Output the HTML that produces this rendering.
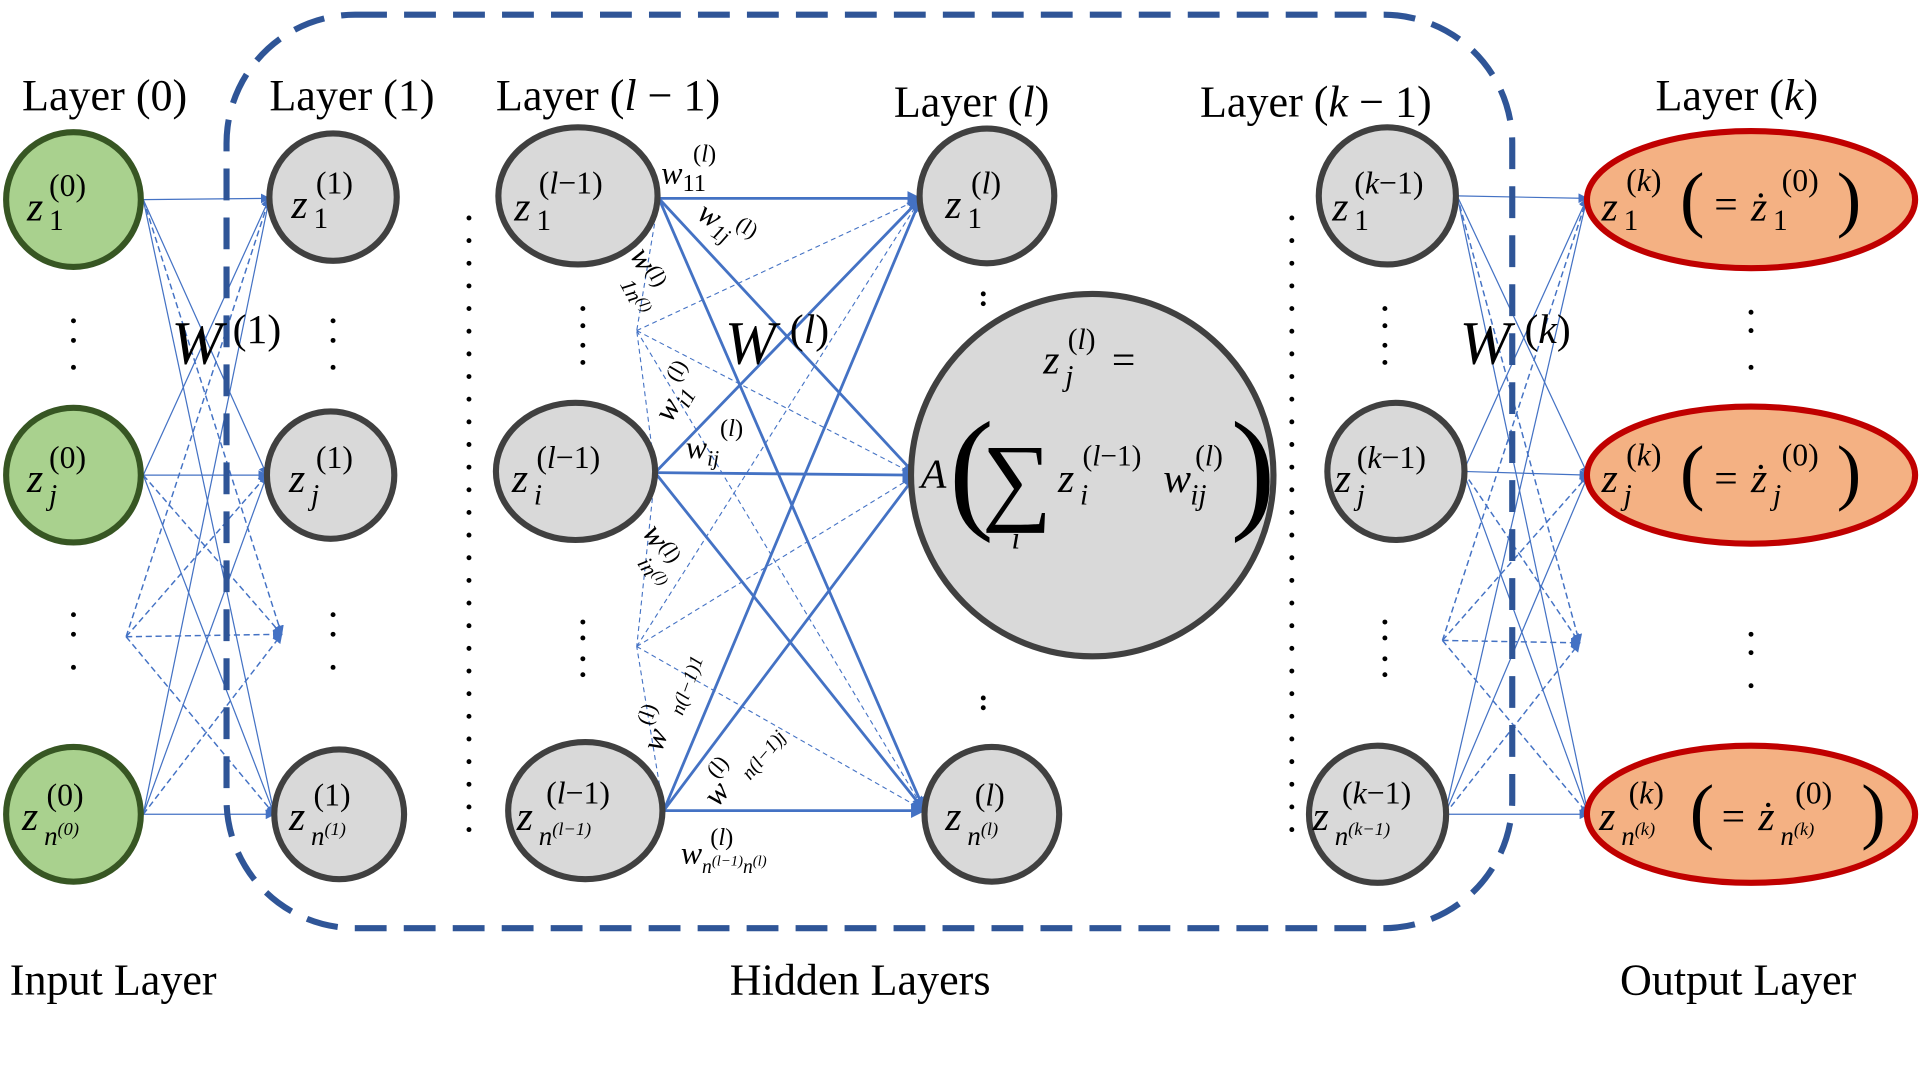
<!DOCTYPE html>
<html><head><meta charset="utf-8"><style>
html,body{margin:0;padding:0;background:#fff;}
svg{display:block}
text{font-family:"Liberation Serif","DejaVu Serif",serif;fill:#000}
.m{font-style:italic}
</style></head><body>
<svg width="1920" height="1080" viewBox="0 0 1568 882" preserveAspectRatio="none" xmlns="http://www.w3.org/2000/svg">
<defs>
<marker id="ar" markerWidth="8" markerHeight="8" refX="7" refY="4" orient="auto" markerUnits="userSpaceOnUse"><path d="M0,0 L8,4 L0,8 z" fill="#4472c4"/></marker>
<marker id="ar2" markerWidth="12" markerHeight="12" refX="11" refY="6" orient="auto" markerUnits="userSpaceOnUse"><path d="M0,0 L12,6 L0,12 z" fill="#4472c4"/></marker>
</defs>

<g stroke="#4472c4" fill="none">
<g stroke-width="1" marker-end="url(#ar)">
<line x1="117" y1="163" x2="220" y2="162"/><line x1="117" y1="163" x2="218" y2="388"/><line x1="117" y1="163" x2="224" y2="665"/>
<line x1="117" y1="388" x2="220" y2="162"/><line x1="117" y1="388" x2="218" y2="388"/><line x1="117" y1="388" x2="224" y2="665"/>
<line x1="117" y1="665" x2="220" y2="162"/><line x1="117" y1="665" x2="218" y2="388"/><line x1="117" y1="665" x2="224" y2="665"/>
</g>
<g stroke-width="1.2" stroke-dasharray="5 3" marker-end="url(#ar)">
<line x1="117" y1="163" x2="230" y2="518"/><line x1="117" y1="388" x2="230" y2="518"/><line x1="117" y1="665" x2="230" y2="518"/>
<line x1="103" y1="520" x2="230" y2="518"/><line x1="103" y1="520" x2="220" y2="162"/><line x1="103" y1="520" x2="218" y2="388"/><line x1="103" y1="520" x2="224" y2="665"/>
</g>
<g stroke-width="2.3" marker-end="url(#ar2)">
<line x1="538" y1="162" x2="752" y2="162"/><line x1="538" y1="162" x2="748" y2="388"/><line x1="538" y1="162" x2="755" y2="662"/>
<line x1="535" y1="386" x2="752" y2="162"/><line x1="535" y1="386" x2="748" y2="388"/><line x1="535" y1="386" x2="755" y2="662"/>
<line x1="542" y1="662" x2="752" y2="162"/><line x1="542" y1="662" x2="748" y2="388"/><line x1="542" y1="662" x2="755" y2="662"/>
</g>
<g stroke-width="0.9" stroke-dasharray="4 3">
<line x1="520" y1="270" x2="752" y2="162"/><line x1="520" y1="270" x2="748" y2="388"/><line x1="520" y1="270" x2="755" y2="662"/>
<line x1="520" y1="528" x2="752" y2="162"/><line x1="520" y1="528" x2="748" y2="388"/><line x1="520" y1="528" x2="755" y2="662"/>
<line x1="538" y1="162" x2="520" y2="270"/><line x1="535" y1="386" x2="520" y2="270"/><line x1="535" y1="386" x2="520" y2="528"/><line x1="542" y1="662" x2="520" y2="528"/>
</g>
<g stroke-width="1" marker-end="url(#ar)">
<line x1="1190" y1="160" x2="1296" y2="162"/><line x1="1190" y1="160" x2="1297" y2="388"/><line x1="1190" y1="160" x2="1297" y2="665"/>
<line x1="1195" y1="385" x2="1296" y2="162"/><line x1="1195" y1="385" x2="1297" y2="388"/><line x1="1195" y1="385" x2="1297" y2="665"/>
<line x1="1180" y1="665" x2="1296" y2="162"/><line x1="1180" y1="665" x2="1297" y2="388"/><line x1="1180" y1="665" x2="1297" y2="665"/>
</g>
<g stroke-width="1.2" stroke-dasharray="5 3" marker-end="url(#ar)">
<line x1="1190" y1="160" x2="1290" y2="525"/><line x1="1195" y1="385" x2="1290" y2="525"/><line x1="1180" y1="665" x2="1290" y2="525"/>
<line x1="1178" y1="523" x2="1290" y2="525"/><line x1="1178" y1="523" x2="1296" y2="162"/><line x1="1178" y1="523" x2="1297" y2="388"/><line x1="1178" y1="523" x2="1297" y2="665"/>
</g>
</g>
<rect x="185" y="12" width="1050" height="746" rx="105" fill="none" stroke="#2f5597" stroke-width="5" stroke-dasharray="26 14"/>

<g stroke-width="5">
<circle cx="60" cy="163" r="55" fill="#a9d18e" stroke="#375623"/>
<circle cx="60" cy="388" r="55" fill="#a9d18e" stroke="#375623"/>
<circle cx="60" cy="665" r="55" fill="#a9d18e" stroke="#375623"/>
<g fill="#d9d9d9" stroke="#404040">
<circle cx="272" cy="161" r="52"/><circle cx="270" cy="388" r="52"/><circle cx="277" cy="665" r="53"/>
<ellipse cx="472" cy="160" rx="65" ry="56"/><ellipse cx="470" cy="385" rx="65" ry="56"/><ellipse cx="478" cy="662" rx="63" ry="56"/>
<circle cx="806" cy="160" r="55"/><circle cx="892" cy="388" r="148"/><circle cx="810" cy="665" r="55"/>
<circle cx="1133" cy="160" r="56"/><circle cx="1140" cy="385" r="56"/><circle cx="1125" cy="665" r="56"/>
</g>
<g fill="#f4b183" stroke="#c00000">
<ellipse cx="1430" cy="163" rx="134" ry="56"/><ellipse cx="1430" cy="388" rx="134" ry="56"/><ellipse cx="1430" cy="665" rx="134" ry="56"/>
</g>
</g>

<g fill="#000">
<circle cx="60" cy="262" r="2"/><circle cx="60" cy="278" r="2"/><circle cx="60" cy="300" r="2"/>
<circle cx="60" cy="502" r="2"/><circle cx="60" cy="518" r="2"/><circle cx="60" cy="545" r="2"/>
<circle cx="272" cy="262" r="2"/><circle cx="272" cy="278" r="2"/><circle cx="272" cy="300" r="2"/>
<circle cx="272" cy="502" r="2"/><circle cx="272" cy="518" r="2"/><circle cx="272" cy="545" r="2"/>
<circle cx="476" cy="252" r="2"/><circle cx="476" cy="266" r="2"/><circle cx="476" cy="282" r="2"/><circle cx="476" cy="296" r="2"/>
<circle cx="476" cy="508" r="2"/><circle cx="476" cy="521" r="2"/><circle cx="476" cy="538" r="2"/><circle cx="476" cy="551" r="2"/>
<circle cx="803" cy="240" r="2"/><circle cx="803" cy="248" r="2"/><circle cx="803" cy="570" r="2"/><circle cx="803" cy="578" r="2"/>
<circle cx="1131" cy="252" r="2"/><circle cx="1131" cy="266" r="2"/><circle cx="1131" cy="282" r="2"/><circle cx="1131" cy="296" r="2"/>
<circle cx="1131" cy="508" r="2"/><circle cx="1131" cy="521" r="2"/><circle cx="1131" cy="538" r="2"/><circle cx="1131" cy="551" r="2"/>
<circle cx="1430" cy="255" r="2"/><circle cx="1430" cy="270" r="2"/><circle cx="1430" cy="300" r="2"/>
<circle cx="1430" cy="518" r="2"/><circle cx="1430" cy="533" r="2"/><circle cx="1430" cy="560" r="2"/>
</g>
<line x1="383" y1="178" x2="383" y2="685" stroke="#000" stroke-width="4" stroke-linecap="round" stroke-dasharray="0 18.5"/>
<line x1="1055" y1="178" x2="1055" y2="685" stroke="#000" stroke-width="4" stroke-linecap="round" stroke-dasharray="0 18.5"/>

<g font-size="36">
<text x="18" y="90">Layer (0)</text>
<text x="220" y="90">Layer (1)</text>
<text x="405" y="90">Layer (<tspan class="m">l</tspan> − 1)</text>
<text x="730" y="95">Layer (<tspan class="m">l</tspan>)</text>
<text x="980" y="95">Layer (<tspan class="m">k</tspan> − 1)</text>
<text x="1352" y="90">Layer (<tspan class="m">k</tspan>)</text>
<text x="8" y="812">Input Layer</text>
<text x="596" y="812">Hidden Layers</text>
<text x="1323" y="812">Output Layer</text>
</g>

<g class="m" font-size="50">
<text x="140" y="297">W</text><text x="190" y="280" font-size="34" font-style="normal">(1)</text>
<text x="592" y="297">W</text><text x="645" y="280" font-size="34" font-style="normal">(<tspan class="m">l</tspan>)</text>
<text x="1192" y="297">W</text><text x="1245" y="280" font-size="34" font-style="normal">(<tspan class="m">k</tspan>)</text>
</g>

<g font-size="34">
<text x="22" y="180" class="m">z</text><text x="40" y="188" font-size="24">1</text><text x="40" y="160" font-size="26">(0)</text>
<text x="22" y="402" class="m">z</text><text x="40" y="412" font-size="24" class="m">j</text><text x="40" y="382" font-size="26">(0)</text>
<text x="18" y="678" class="m">z</text><text x="36" y="690" font-size="22" class="m">n<tspan font-size="15" dy="-8">(0)</tspan></text><text x="38" y="658" font-size="26">(0)</text>

<text x="238" y="178" class="m">z</text><text x="256" y="186" font-size="24">1</text><text x="258" y="158" font-size="26">(1)</text>
<text x="236" y="402" class="m">z</text><text x="254" y="412" font-size="24" class="m">j</text><text x="258" y="382" font-size="26">(1)</text>
<text x="236" y="678" class="m">z</text><text x="254" y="690" font-size="22" class="m">n<tspan font-size="15" dy="-8">(1)</tspan></text><text x="256" y="658" font-size="26">(1)</text>

<text x="420" y="180" class="m">z</text><text x="438" y="188" font-size="24">1</text><text x="440" y="158" font-size="26">(<tspan class="m">l</tspan>−1)</text>
<text x="418" y="402" class="m">z</text><text x="436" y="412" font-size="24" class="m">i</text><text x="438" y="382" font-size="26">(<tspan class="m">l</tspan>−1)</text>
<text x="422" y="678" class="m">z</text><text x="440" y="690" font-size="22" class="m">n<tspan font-size="15" dy="-8">(l−1)</tspan></text><text x="446" y="656" font-size="26">(<tspan class="m">l</tspan>−1)</text>

<text x="772" y="178" class="m">z</text><text x="790" y="186" font-size="24">1</text><text x="793" y="158" font-size="26">(<tspan class="m">l</tspan>)</text>
<text x="772" y="678" class="m">z</text><text x="790" y="690" font-size="22" class="m">n<tspan font-size="15" dy="-8">(l)</tspan></text><text x="796" y="658" font-size="26">(<tspan class="m">l</tspan>)</text>

<text x="1088" y="180" class="m">z</text><text x="1106" y="188" font-size="24">1</text><text x="1106" y="158" font-size="26">(<tspan class="m">k</tspan>−1)</text>
<text x="1090" y="402" class="m">z</text><text x="1108" y="412" font-size="24" class="m">j</text><text x="1108" y="382" font-size="26">(<tspan class="m">k</tspan>−1)</text>
<text x="1072" y="678" class="m">z</text><text x="1090" y="690" font-size="22" class="m">n<tspan font-size="15" dy="-8">(k−1)</tspan></text><text x="1096" y="656" font-size="26">(<tspan class="m">k</tspan>−1)</text>

<text x="852" y="305" class="m">z</text><text x="870" y="315" font-size="24" class="m">j</text><text x="872" y="285" font-size="24">(<tspan class="m">l</tspan>)</text><text x="908" y="305">=</text>
<text x="752" y="398" class="m">A</text>
<text x="775" y="420" font-size="110">(</text>
<text x="802" y="418" font-size="80">∑</text>
<text x="826" y="448" class="m" font-size="26">i</text>
<text x="864" y="402" class="m">z</text><text x="882" y="412" font-size="24" class="m">i</text><text x="884" y="380" font-size="24">(<tspan class="m">l</tspan>−1)</text>
<text x="950" y="402" class="m">w</text><text x="972" y="412" font-size="24" class="m">ij</text><text x="976" y="380" font-size="24">(<tspan class="m">l</tspan>)</text>
<text x="1005" y="420" font-size="110">)</text>

<g>
<text x="1308" y="180" class="m">z</text><text x="1326" y="188" font-size="24">1</text><text x="1328" y="156" font-size="26">(<tspan class="m">k</tspan>)</text>
<text x="1372" y="182" font-size="60">(</text><text x="1400" y="178">=</text><text x="1430" y="180" class="m">ż</text><text x="1448" y="188" font-size="24">1</text><text x="1455" y="156" font-size="26">(0)</text><text x="1500" y="182" font-size="60">)</text>
</g>
<g>
<text x="1308" y="402" class="m">z</text><text x="1326" y="412" font-size="24" class="m">j</text><text x="1328" y="380" font-size="26">(<tspan class="m">k</tspan>)</text>
<text x="1372" y="405" font-size="60">(</text><text x="1400" y="402">=</text><text x="1430" y="402" class="m">ż</text><text x="1448" y="412" font-size="24" class="m">j</text><text x="1455" y="380" font-size="26">(0)</text><text x="1500" y="405" font-size="60">)</text>
</g>
<g>
<text x="1306" y="678" class="m">z</text><text x="1324" y="690" font-size="22" class="m">n<tspan font-size="15" dy="-8">(k)</tspan></text><text x="1330" y="656" font-size="26">(<tspan class="m">k</tspan>)</text>
<text x="1380" y="682" font-size="60">(</text><text x="1406" y="678">=</text><text x="1436" y="678" class="m">ż</text><text x="1454" y="690" font-size="22" class="m">n<tspan font-size="15" dy="-8">(k)</tspan></text><text x="1466" y="656" font-size="26">(0)</text><text x="1520" y="682" font-size="60">)</text>
</g>
</g>

<g font-size="26" class="m">
<text x="540" y="150">w<tspan font-size="20" font-style="normal" dy="6">11</tspan></text><text x="566" y="132" font-size="20" font-style="normal">(<tspan class="m">l</tspan>)</text>
<text transform="translate(568,178) rotate(32)">w<tspan font-size="18" dy="6">1j</tspan><tspan font-size="18" font-style="normal" dy="-16">(l)</tspan></text>
<text transform="translate(514,208) rotate(62)">w<tspan font-size="18" font-style="normal" dy="-6">(l)</tspan></text>
<text transform="translate(506,232) rotate(62)" font-size="18">1n<tspan font-size="13" dy="-6">(l)</tspan></text>
<text transform="translate(548,346) rotate(-60)">w<tspan font-size="18" dy="6">i1</tspan><tspan font-size="18" font-style="normal" dy="-18">(l)</tspan></text>
<text x="560" y="374">w<tspan font-size="18" dy="6">ij</tspan></text><text x="588" y="356" font-size="20" font-style="normal">(<tspan class="m">l</tspan>)</text>
<text transform="translate(524,435) rotate(58)">w<tspan font-size="18" font-style="normal" dy="-6">(l)</tspan></text>
<text transform="translate(520,460) rotate(58)" font-size="18">in<tspan font-size="13" dy="-6">(l)</tspan></text>
<text transform="translate(540,615) rotate(-70)">w<tspan font-size="18" font-style="normal" dy="-16">(l)</tspan><tspan font-size="16" dy="22">n(l−1)1</tspan></text>
<text transform="translate(586,660) rotate(-50)">w<tspan font-size="18" font-style="normal" dy="-16">(l)</tspan><tspan font-size="16" dy="22">n(l−1)j</tspan></text>
<text x="556" y="705">w<tspan font-size="16" dy="8">n<tspan font-size="12" dy="-6">(l−1)</tspan><tspan dy="6">n</tspan><tspan font-size="12" dy="-6">(l)</tspan></tspan></text><text x="580" y="690" font-size="20" font-style="normal">(<tspan class="m">l</tspan>)</text>
</g>
</svg>
</body></html>
